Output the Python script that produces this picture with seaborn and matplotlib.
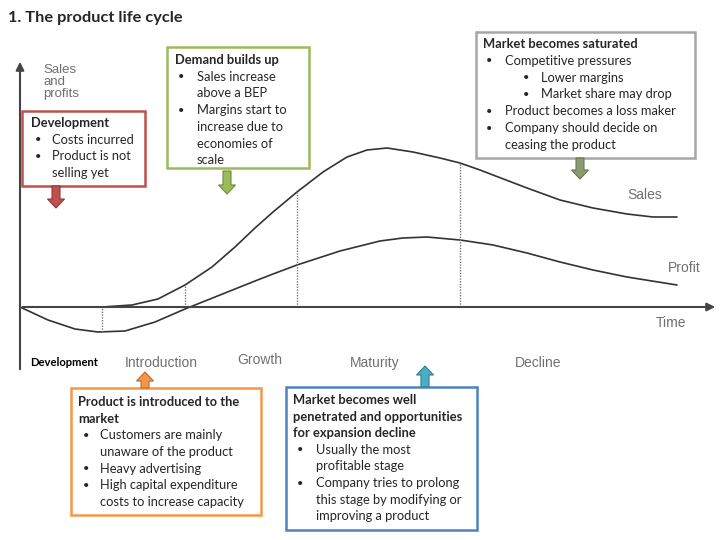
import numpy as np
import matplotlib
matplotlib.use("Agg")
import matplotlib.pyplot as plt
from matplotlib.patches import Rectangle, FancyArrow
import pandas as pd
import seaborn as sns

# Datos de las curvas (tiempo desde el origen, altura sobre el eje del tiempo)
sales_time = [82, 112, 138, 165, 192, 215, 235, 253, 277, 303, 327, 347,
              367, 393, 420, 440, 460, 473, 507, 540, 573, 607, 633, 657]
sales_value = [0, 2, 8, 22, 40, 60, 79, 95, 115, 135, 150, 157,
               159, 155, 149, 144, 137, 132, 119, 107, 99, 93, 90, 90]
profit_time = [0, 28, 55, 78, 105, 135, 165, 175, 205, 235, 253, 277, 320,
               360, 383, 407, 440, 460, 473, 507, 540, 573, 607, 657]
profit_value = [0, -13, -22, -25, -24, -15, -2, 2, 14, 26, 33, 42, 56,
                66, 69, 70, 67, 64, 62, 54, 45, 37, 30, 22]
stage_bounds = [82, 165, 277, 440]
stages = ["Introduction", "Growth", "Maturity", "Decline"]
stage_time = [105, 217, 330, 495]

# Cuadros de texto: (nivel, texto, negrita)
boxes = {
    "dev": [(0, "Development", True), (1, "Costs incurred", False),
            (1, "Product is not", False), (2, "selling yet", False)],
    "growth": [(0, "Demand builds up", True), (1, "Sales increase", False),
               (2, "above a BEP", False), (1, "Margins start to", False),
               (2, "increase due to", False), (2, "economies of", False),
               (2, "scale", False)],
    "decline": [(0, "Market becomes saturated", True),
                (1, "Competitive pressures", False),
                (3, "Lower margins", False),
                (3, "Market share may drop", False),
                (1, "Product becomes a loss maker", False),
                (1, "Company should decide on", False),
                (2, "ceasing the product", False)],
    "intro": [(0, "Product is introduced to the", True), (0, "market", True),
              (1, "Customers are mainly", False),
              (2, "unaware of the product", False),
              (1, "Heavy advertising", False),
              (1, "High capital expenditure", False),
              (2, "costs to increase capacity", False)],
    "maturity": [(0, "Market becomes well", True),
                 (0, "penetrated and opportunities", True),
                 (0, "for expansion decline", True),
                 (1, "Usually the most", False),
                 (2, "profitable stage", False),
                 (1, "Company tries to prolong", False),
                 (2, "this stage by modifying or", False),
                 (2, "improving a product", False)],
}

sns.set_theme(style="white")
plt.rcParams["font.family"] = ["Lato", "DejaVu Sans"]

fig = plt.figure(figsize=(7.2, 5.4), dpi=100)

# Ejes del gráfico (origen en el cruce de los ejes)
ax = fig.add_axes([0, 0, 1, 1])
ax.set_xlim(-20, 700)
ax.set_ylim(-233, 307)
ax.axis("off")

df_sales = pd.DataFrame({"t": sales_time, "v": sales_value})
df_profit = pd.DataFrame({"t": profit_time, "v": profit_value})
sns.lineplot(data=df_sales, x="t", y="v", ax=ax, color="#333333", lw=1.2,
             sort=False, solid_joinstyle="round")
sns.lineplot(data=df_profit, x="t", y="v", ax=ax, color="#333333", lw=1.2,
             sort=False, solid_joinstyle="round")

for b in stage_bounds:
    s = np.interp(b, sales_time, sales_value)
    p = np.interp(b, profit_time, profit_value)
    lo, hi = (p, 0) if s <= 0.5 else (0, s)
    ax.plot([b, b], [lo, hi], color="#777777", lw=1, ls=(0, (1, 1)))

# ejes con flechas
ax.annotate("", xy=(0, 248), xytext=(0, -65),
            arrowprops=dict(arrowstyle="-|>", color="#444444", lw=1.5, mutation_scale=12))
ax.annotate("", xy=(698, 0), xytext=(0, 0),
            arrowprops=dict(arrowstyle="-|>", color="#444444", lw=1.5, mutation_scale=12))

gray = "#707070"
lab = dict(color=gray, fontsize=10, family="Liberation Sans", va="center")
ax.text(23, 243, "Sales\nand\nprofits", color=gray, fontsize=9.5,
        family="Liberation Sans", va="top", linespacing=1.0)
ax.text(607, 112, "Sales", **lab)
ax.text(648, 39, "Profit", **lab)
ax.text(636, -16, "Time", **lab)
ax.text(10, -56, "Development", color="black", fontsize=8.1, fontweight="bold", va="center")
for name, t in zip(stages, stage_time):
    dy = 3 if name == "Growth" else 0
    ax.text(t, -56 + dy, name, **lab)

# Capa de anotaciones en píxeles
ov = fig.add_axes([0, 0, 1, 1])
ov.set_xlim(0, 720)
ov.set_ylim(540, 0)
ov.axis("off")
ov.patch.set_alpha(0)

ov.text(8, 18, "1. The product life cycle", fontsize=11.8, fontweight="bold", va="center")


def draw_box(key, x0, y0, x1, y1, color, ty, step, xs):
    ov.add_patch(Rectangle((x0, y0), x1 - x0, y1 - y0, fill=False,
                           edgecolor=color, lw=1.8))
    y = ty
    for level, txt, bold in boxes[key]:
        if level == 0:
            ov.text(xs[0], y, txt, fontsize=9.3, fontweight="bold", va="center")
        elif level == 1:
            ov.text(xs[1], y, "•", fontsize=8, va="center")
            ov.text(xs[2], y, txt, fontsize=9.3, va="center")
        elif level == 2:
            ov.text(xs[2], y, txt, fontsize=9.3, va="center")
        else:
            ov.text(xs[3], y, "•", fontsize=8, va="center")
            ov.text(xs[4], y, txt, fontsize=9.3, va="center")
        y += step


def block_arrow(x, y, dy, color, edge):
    ov.add_patch(FancyArrow(x, y, 0, dy, width=8, head_width=17, head_length=9,
                            length_includes_head=True, facecolor=color,
                            edgecolor=edge, lw=0.8))


draw_box("dev", 22, 111, 145, 186, "#c0504d", 123, 16.7, [31, 35, 52])
draw_box("growth", 167, 47, 309, 168, "#9bbb59", 60, 16.7, [175, 178, 197])
draw_box("decline", 476, 32, 695, 158, "#a6a6a6", 44, 16.8, [483, 486, 505, 523, 541])
draw_box("intro", 71, 388, 261, 515, "#f79646", 402, 16.7, [78, 83, 100])
draw_box("maturity", 286, 387, 477, 530, "#4f81bd", 400, 16.6, [293, 297, 316])

block_arrow(56, 186, 22, "#c0504d", "#8c3836")
block_arrow(227, 171, 23, "#9bbb59", "#71893f")
block_arrow(580, 158, 21, "#8c9a70", "#6b7553")
block_arrow(145, 388, -16, "#f79646", "#b66d31")
block_arrow(425, 387, -21, "#4bacc6", "#357d91")

plt.savefig("out.png", dpi=100)
